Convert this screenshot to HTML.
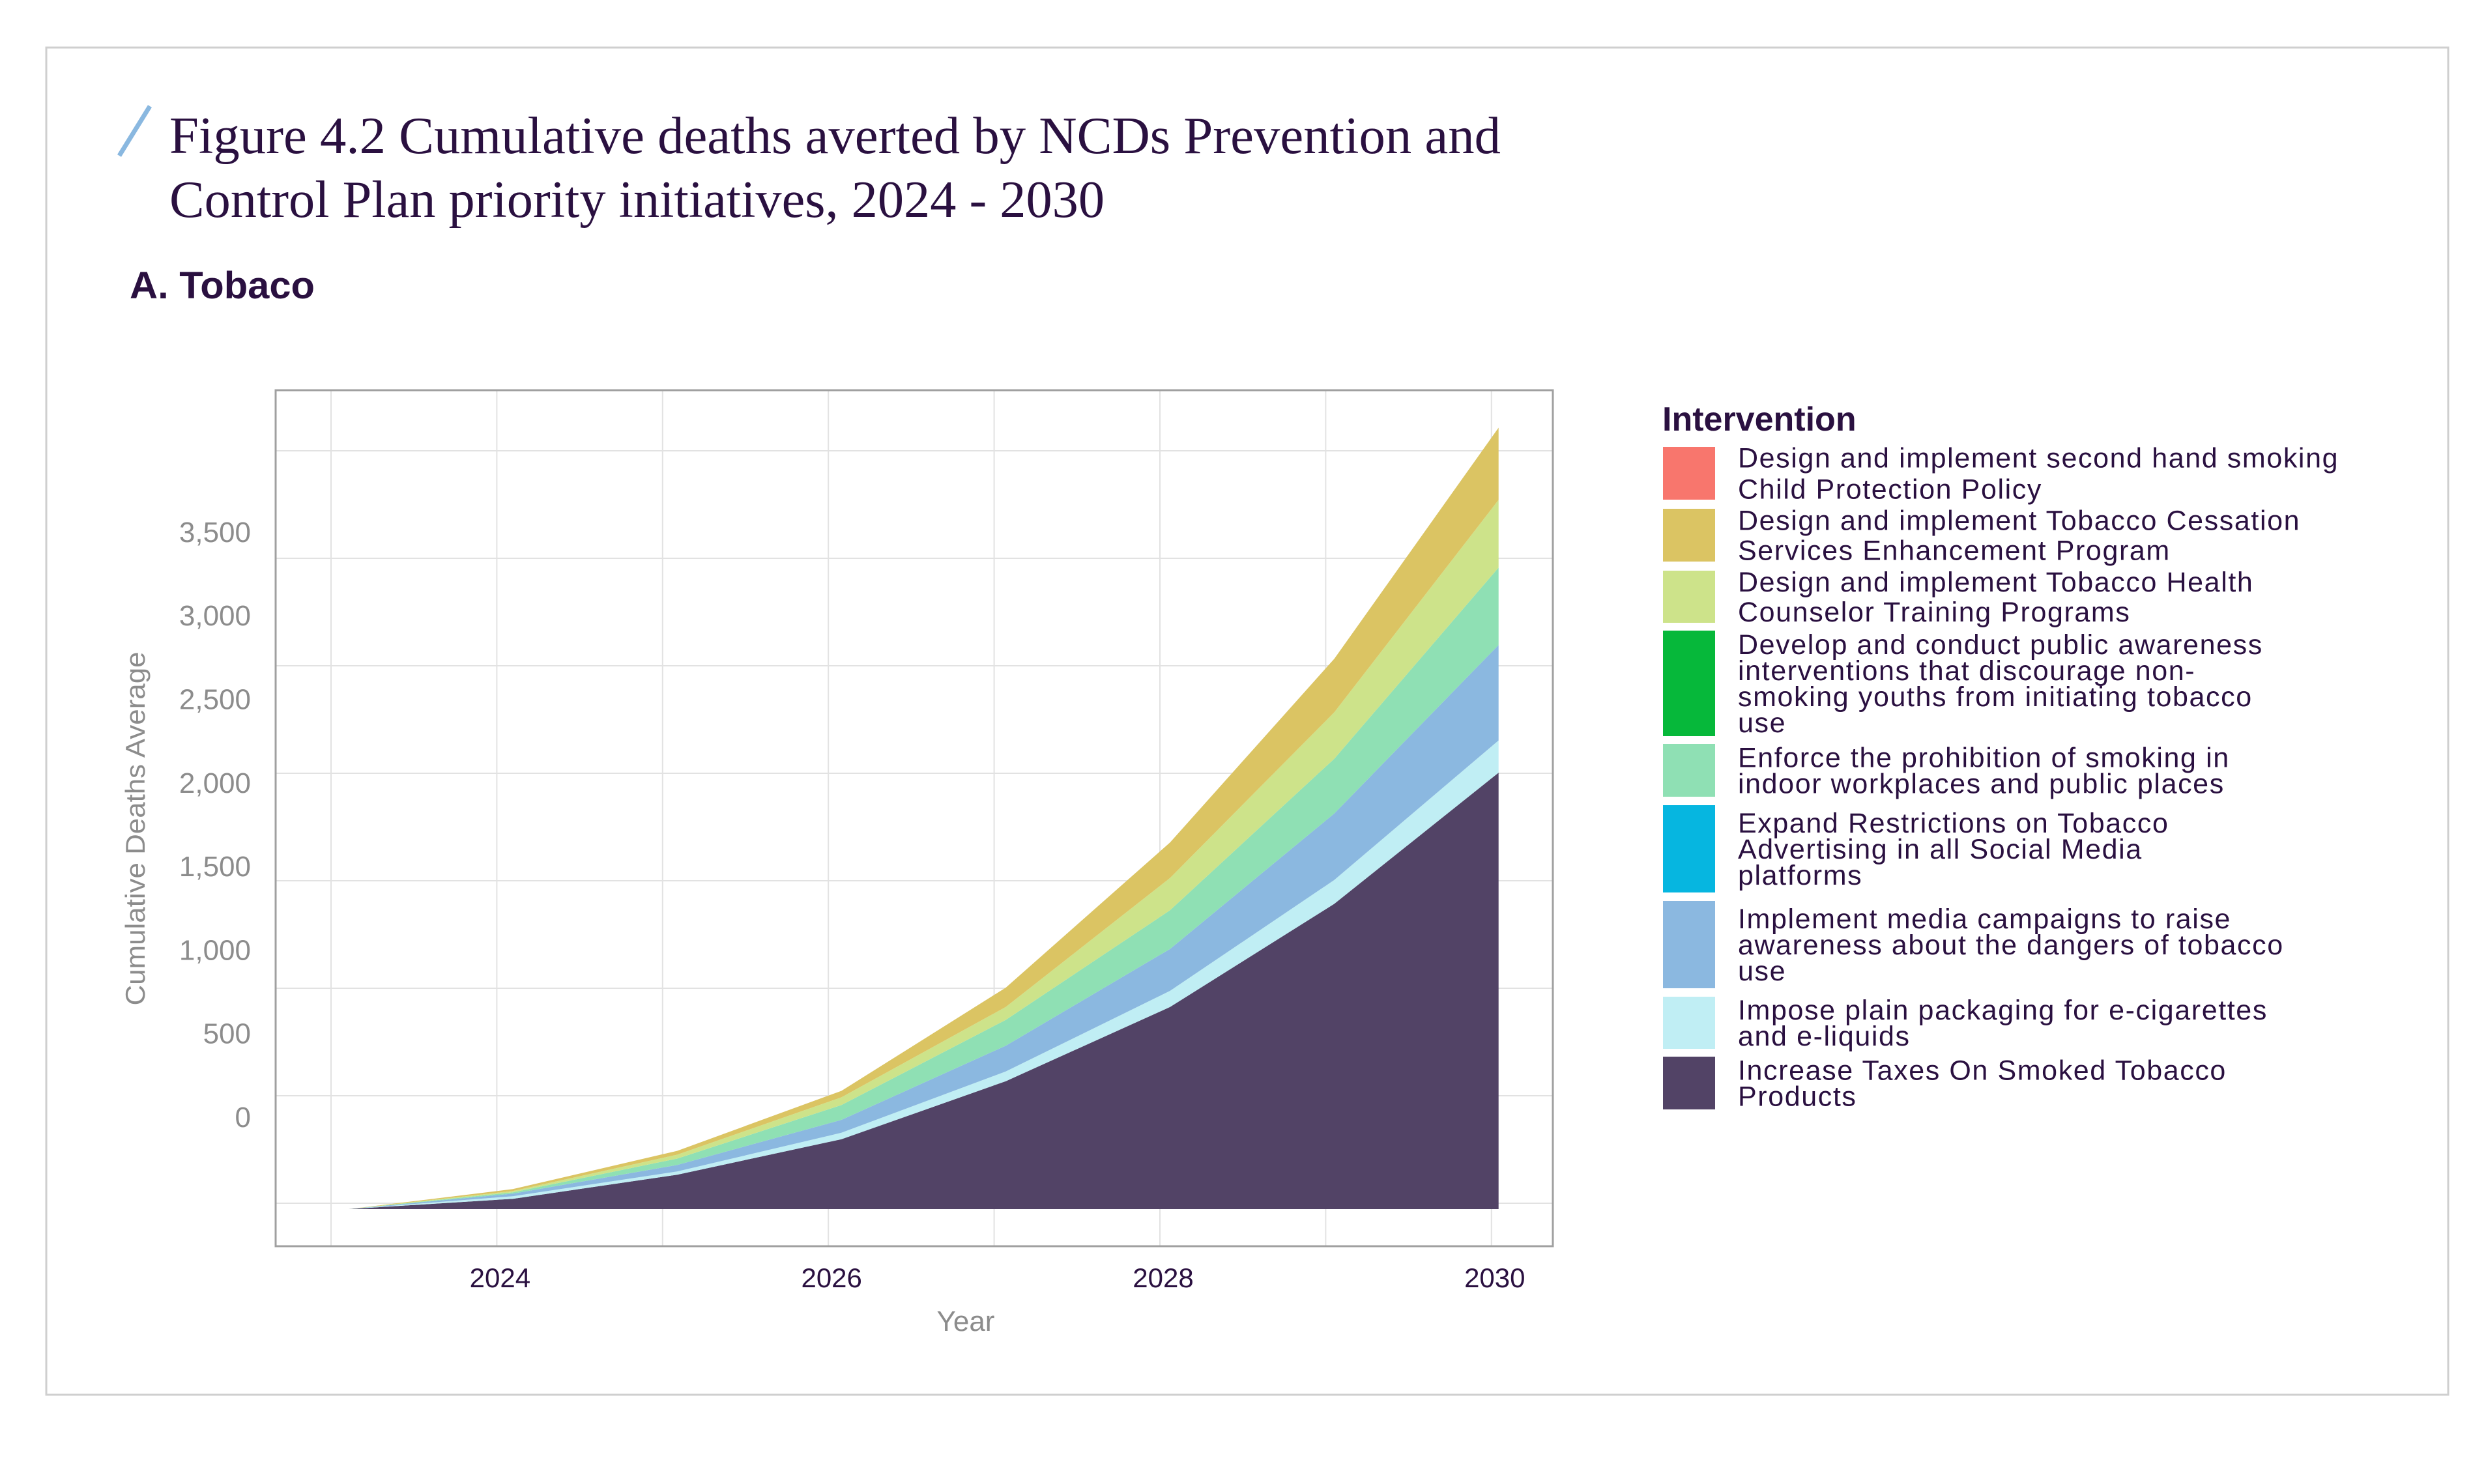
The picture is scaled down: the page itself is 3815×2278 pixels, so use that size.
<!DOCTYPE html>
<html><head><meta charset="utf-8"><style>
html,body{margin:0;padding:0;background:#fff;}
svg{display:block;}
</style></head><body>
<svg id="chart" width="3815" height="2278" viewBox="0 0 3815 2278" xmlns="http://www.w3.org/2000/svg" font-family="Liberation Sans, sans-serif">
<rect x="71" y="73" width="3686" height="2068" fill="#fff" stroke="#cfcfcf" stroke-width="3"/>
<line x1="230" y1="163" x2="183" y2="239" stroke="#8ab8e0" stroke-width="7"/>
<text x="260" y="235" font-family="Liberation Serif, serif" font-size="80" fill="#2a1040" textLength="2043" lengthAdjust="spacingAndGlyphs">Figure 4.2 Cumulative deaths averted by NCDs Prevention and</text>
<text x="260" y="333" font-family="Liberation Serif, serif" font-size="80" fill="#2a1040" textLength="1435" lengthAdjust="spacingAndGlyphs">Control Plan priority initiatives,  2024 - 2030</text>
<text x="199" y="458" font-size="58" font-weight="bold" fill="#2a1040" textLength="284" lengthAdjust="spacingAndGlyphs">A. Tobaco</text>
<g id="grid"></g>
<g id="areas"></g>
<rect x="423" y="599" width="1960" height="1314" fill="none" stroke="#a0a0a0" stroke-width="3"/>
<g id="yticks"></g>
<g id="xticks"></g>
<text transform="translate(222,1272) rotate(-90)" text-anchor="middle" font-size="42" fill="#8c8c8c" textLength="543" lengthAdjust="spacingAndGlyphs">Cumulative Deaths Average</text>
<text x="1482" y="2043" text-anchor="middle" font-size="44" fill="#8c8c8c">Year</text>
<text x="2551" y="661" font-size="52" font-weight="bold" fill="#2a1040">Intervention</text>
<g id="legend"></g>
</svg>
<script>
const years = [2023, 2024, 2025, 2026, 2027, 2028, 2029, 2030];
const taxes = [0, 48, 160, 325, 595, 940, 1420, 2030];
const plainPackaging = [0, 12, 15, 30, 45, 75, 111, 150];
const mediaCampaigns = [0, 12, 30, 60, 120, 195, 309, 444];
const enforceProhibition = [0, 6, 30, 69, 120, 180, 255, 360];
const counselorTraining = [0, 6, 18, 36, 60, 150, 216, 315];
const cessationServices = [0, 9, 18, 30, 90, 165, 249, 336];
const yTickValues = [0, 500, 1000, 1500, 2000, 2500, 3000, 3500];
const yTickLabels = ["0", "500", "1,000", "1,500", "2,000", "2,500", "3,000", "3,500"];
const xTickYears = [2024, 2026, 2028, 2030];
const xTickLabels = ["2024", "2026", "2028", "2030"];

const NS = "http://www.w3.org/2000/svg";
function xData(y) { return 535 + (y - 2023) * 252.1; }
function xGrid(y) { return 508 + (y - 2023) * 254.4; }
function yData(v) { return 1856 - v * 0.33; }
function yGrid(v) { return 1847 - v * 0.33; }
function yLabel(v) { return 1730 - v * 0.2566; }
function mk(tag, attrs, parent) {
  const e = document.createElementNS(NS, tag);
  for (const k in attrs) e.setAttribute(k, attrs[k]);
  parent.appendChild(e);
  return e;
}
const grid = document.getElementById('grid');
for (let g = 0; g <= 3500; g += 500) {
  const l = mk('line', {x1: 423, x2: 2383, y1: yGrid(g), y2: yGrid(g), stroke: '#e2e2e2', 'stroke-width': 2}, grid);
  
  
}
for (let yr = 2023; yr <= 2030; yr++) {
  const l = mk('line', {x1: xGrid(yr), x2: xGrid(yr), y1: 599, y2: 1913, stroke: '#e2e2e2', 'stroke-width': 2}, grid);
  
  
}
const series = [
  {name: 'area-increase-taxes', vals: taxes, color: '#524366'},
  {name: 'area-plain-packaging', vals: plainPackaging, color: '#c0eef4'},
  {name: 'area-media-campaigns', vals: mediaCampaigns, color: '#8bb8e0'},
  {name: 'area-enforce-prohibition', vals: enforceProhibition, color: '#8fe0b4'},
  {name: 'area-counselor-training', vals: counselorTraining, color: '#cde38a'},
  {name: 'area-cessation-services', vals: cessationServices, color: '#dbc463'}
];
const areas = document.getElementById('areas');
let base = years.map(() => 0);
series.forEach(s => {
  const top = base.map((b, i) => b + s.vals[i]);
  let d = '';
  years.forEach((yr, i) => { d += (i ? 'L' : 'M') + xData(yr).toFixed(1) + ',' + yData(top[i]).toFixed(1); });
  for (let i = years.length - 1; i >= 0; i--) d += 'L' + xData(years[i]).toFixed(1) + ',' + yData(base[i]).toFixed(1);
  d += 'Z';
  const p = mk('path', {d: d, fill: s.color}, areas);
  
  
  base = top;
});
const yt = document.getElementById('yticks');
yTickValues.forEach((v, i) => {
  const t = mk('text', {x: 385, y: yLabel(v), 'text-anchor': 'end', 'font-size': 44, fill: '#8c8c8c'}, yt);
  t.textContent = yTickLabels[i];
  
  
});
const xt = document.getElementById('xticks');
xTickYears.forEach((yr, i) => {
  const t = mk('text', {x: xGrid(yr) + 5, y: 1976, 'text-anchor': 'middle', 'font-size': 42, fill: '#2a1040'}, xt);
  t.textContent = xTickLabels[i];
  
  
});
const legendItems = [
  {color: '#f8766d', y0: 686, y1: 767, lines: ['Design and implement second hand smoking', 'Child Protection Policy'], lh: 48},
  {color: '#dbc463', y0: 781, y1: 862, lines: ['Design and implement Tobacco Cessation', 'Services Enhancement Program'], lh: 46},
  {color: '#cde38a', y0: 876, y1: 956, lines: ['Design and implement Tobacco Health', 'Counselor Training Programs'], lh: 46},
  {color: '#06b83a', y0: 968, y1: 1130, lines: ['Develop and conduct public awareness', 'interventions that discourage non-', 'smoking youths from initiating tobacco', 'use'], lh: 40},
  {color: '#8fe0b4', y0: 1142, y1: 1223, lines: ['Enforce the prohibition of smoking in', 'indoor workplaces and public places'], lh: 40},
  {color: '#06b6e0', y0: 1236, y1: 1370, lines: ['Expand Restrictions on Tobacco', 'Advertising in all Social Media', 'platforms'], lh: 40},
  {color: '#8bb8e0', y0: 1383, y1: 1517, lines: ['Implement media campaigns to raise', 'awareness about the dangers of tobacco', 'use'], lh: 40},
  {color: '#c0eef4', y0: 1530, y1: 1610, lines: ['Impose plain packaging for e-cigarettes', 'and e-liquids'], lh: 40},
  {color: '#524366', y0: 1622, y1: 1703, lines: ['Increase Taxes On Smoked Tobacco', 'Products'], lh: 40}
];
const lg = document.getElementById('legend');
legendItems.forEach(it => {
  const g = mk('g', {}, lg);
  
  
  const r = mk('rect', {x: 2552, y: it.y0, width: 80, height: it.y1 - it.y0, fill: it.color}, g);
  
  
  const total = (it.lines.length - 1) * it.lh;
  const mid = (it.y0 + it.y1) / 2;
  it.lines.forEach((ln, k) => {
    const t = mk('text', {x: 2667, y: mid - total / 2 + k * it.lh + 15, 'font-size': 43, 'letter-spacing': 1.6, fill: '#2a1040'}, g);
    t.textContent = ln;
    
    
  });
});
</script>
</body></html>
